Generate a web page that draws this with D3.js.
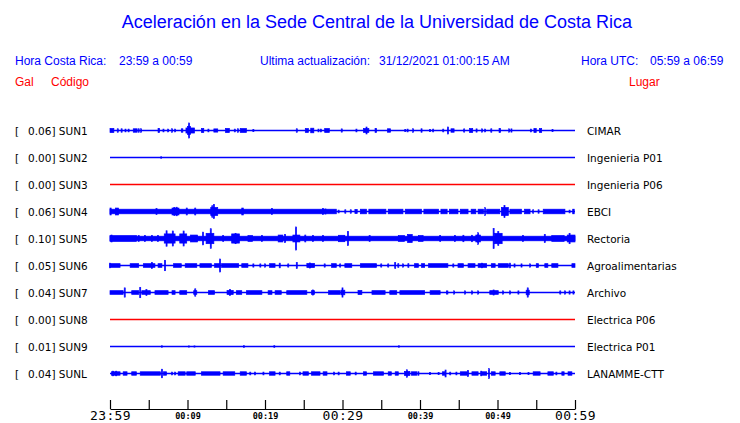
<!DOCTYPE html>
<html><head><meta charset="utf-8">
<script src="https://cdn.jsdelivr.net/npm/d3@7"></script>
<style>body{margin:0;background:#fff}svg{display:block}</style>
</head><body>
<script>
// ---------- DATA ----------
const codes = ["SUN1","SUN2","SUN3","SUN4","SUN5","SUN6","SUN7","SUN8","SUN9","SUNL"];
const places = ["CIMAR","Ingenieria P01","Ingenieria P06","EBCI","Rectoria","Agroalimentarias","Archivo","Electrica P06","Electrica P01","LANAMME-CTT"];
const peakGal = ["0.06","0.00","0.00","0.06","0.10","0.05","0.04","0.00","0.01","0.04"];
const traceColors = ["blue","blue","red","blue","blue","blue","blue","red","blue","blue"];
const tickMinutes = [0,5,10,15,20,25,30,35,40,45,50,55,60];
const tickLabels = ["23:59","","00:09","","00:19","","00:29","","00:39","","00:49","","00:59"];
const bigTicks = ["23:59","00:29","00:59"];

// amplitude blocks: [start minute, end minute, half amplitude (gal)]
const sun1 = [[0,0.5,0.018],[1.0,1.0,0.015],[1.5,1.5,0.015],[2.0,2.0,0.012],[2.4,2.4,0.012],[3.0,3.5,0.015],[3.7,3.7,0.015],[4.0,4.0,0.015],
[6.2,6.4,0.018],[6.9,6.9,0.012],[7.5,7.5,0.012],[8.0,8.0,0.015],[8.4,8.4,0.012],[9.2,9.4,0.015],[9.8,10.9,0.022],[10.0,10.4,0.035],[10.2,10.2,0.065],
[11.8,12.1,0.018],[12.7,12.7,0.012],[13.4,13.9,0.014],[14.9,15.4,0.018],[16.1,16.1,0.012],[16.5,16.5,0.015],[16.8,17.6,0.017],[18.5,18.5,0.01],
[24.1,24.1,0.015],[25.2,25.6,0.017],[25.9,26.3,0.02],[26.9,26.9,0.012],[27.2,27.2,0.012],[27.7,28.3,0.017],[29.9,29.9,0.014],[31.8,31.8,0.012],
[32.7,33.4,0.017],[33.1,33.1,0.03],[34.2,34.4,0.017],[35.8,36.2,0.015],[38.1,38.1,0.01],[38.4,38.4,0.012],[39.1,39.1,0.015],[40.2,40.2,0.015],
[41.3,41.3,0.01],[41.7,41.7,0.012],[43.0,43.0,0.012],[43.6,43.6,0.03],[44.0,44.4,0.015],[45.7,45.7,0.014],[46.4,46.8,0.017],[47.3,47.3,0.014],
[48.0,48.0,0.014],[48.4,48.4,0.012],[49.2,49.2,0.015],[50.2,50.4,0.017],[51.5,51.5,0.014],[51.8,51.8,0.014],[54.3,54.3,0.012],[54.7,55.0,0.017],
[55.4,55.7,0.017],[57.1,57.1,0.01]];
const sun2 = [[6.6,6.6,0.006]];
const sun3 = [];
const sun4 = [[0,29.2,0.02],[0,0.15,0.03],[0.7,1.1,0.03],[6.0,6.0,0.025],[8.0,8.9,0.03],[8.3,8.3,0.035],[8.6,8.6,0.037],[9.9,9.9,0.03],[11.0,11.0,0.03],
[13.0,13.9,0.035],[13.2,13.2,0.05],[13.4,13.4,0.06],[17.0,17.2,0.03],[20.9,20.9,0.025],[27.5,27.5,0.025],[27.8,27.8,0.022],
[29.5,29.5,0.012],[30.3,30.4,0.015],[31.0,31.1,0.015],[31.6,31.9,0.018],[32.3,33.1,0.02],[33.4,35.6,0.02],[35.9,37.8,0.02],[38.1,40.2,0.02],
[40.5,42.4,0.02],[42.7,43.5,0.02],[43.8,44.9,0.02],[45.2,46.2,0.02],[46.6,47.2,0.02],[47.5,48.2,0.02],[48.4,48.4,0.033],[48.6,50.3,0.02],
[50.5,51.4,0.035],[50.9,50.9,0.052],[51.6,53.1,0.02],[53.5,54.2,0.02],[54.6,54.6,0.015],[55.3,55.3,0.015],[55.9,58.7,0.02],[59.3,59.3,0.012],[59.7,59.9,0.02]];
const sun5 = [[0,60,0.02],[0,3.4,0.025],[0.2,0.2,0.03],[3.7,3.7,0.025],[4.5,4.5,0.025],[5.4,5.4,0.025],[6.2,6.2,0.025],
[7.0,8.4,0.04],[7.3,7.3,0.067],[8.1,8.1,0.065],[9.0,9.9,0.04],[9.5,9.5,0.065],[10.4,11.3,0.03],[12.0,12.0,0.055],[12.4,13.4,0.045],[13.0,13.0,0.085],
[14.6,14.6,0.025],[15.7,16.7,0.04],[16.2,16.2,0.045],[17.8,18.4,0.025],[19.6,19.6,0.025],[21.7,22.3,0.03],[22.6,22.6,0.035],[23.6,24.5,0.03],[24.0,24.0,0.1],
[25.2,25.2,0.03],[26.2,26.2,0.025],[27.5,27.5,0.025],[29.5,30.3,0.028],[30.7,30.7,0.06],[33.5,33.5,0.025],[37.2,38.0,0.025],[38.4,39.0,0.035],
[39.8,40.4,0.025],[42.6,42.6,0.025],[44.5,44.5,0.025],[45.6,45.6,0.028],[46.7,46.7,0.028],[47.2,47.8,0.03],[47.5,47.5,0.05],[49.5,49.5,0.087],
[49.6,50.6,0.045],[50.1,50.1,0.06],[53.3,53.3,0.025],[56.1,56.1,0.035],[57.0,58.6,0.025],[59.3,59.3,0.045],[59.0,60,0.03]];
const sun6 = [[0,1.3,0.016],[0,0,0.02],[2.6,3.7,0.016],[4.3,5.8,0.016],[5.4,5.4,0.025],[6.2,6.7,0.016],[7.1,7.1,0.045],[8.2,9.2,0.016],[9.7,11.2,0.016],
[11.6,13.1,0.016],[13.5,14.2,0.016],[14.2,14.2,0.056],[14.4,16.6,0.016],[17.0,17.8,0.016],[18.5,18.5,0.014],[19.4,19.4,0.014],[20.0,20.0,0.014],
[20.6,21.3,0.016],[21.9,21.9,0.02],[23.0,23.0,0.014],[24.1,24.1,0.025],[25.4,26.4,0.018],[25.8,25.8,0.022],[27.7,27.7,0.014],[28.6,29.2,0.016],
[29.7,29.7,0.014],[30.3,31.2,0.016],[32.3,34.4,0.016],[35.0,35.0,0.014],[35.9,35.9,0.014],[36.8,36.8,0.025],[37.2,37.2,0.016],[37.8,37.8,0.014],
[38.5,38.5,0.016],[39.3,39.8,0.016],[40.2,40.6,0.016],[41.1,43.6,0.016],[44.3,44.3,0.014],[44.9,45.6,0.016],[46.2,47.1,0.016],[47.5,48.6,0.016],
[48.0,48.0,0.02],[49.2,49.7,0.016],[50.1,51.4,0.016],[51.6,51.6,0.02],[52.2,52.2,0.014],[53.1,53.1,0.014],[54.2,54.2,0.014],[55.0,55.3,0.016],
[56.1,56.5,0.016],[57.0,57.8,0.016],[59.6,60,0.016]];
const sun7 = [[0,1.7,0.016],[1.9,1.9,0.04],[2.8,3.7,0.016],[3.9,3.9,0.045],[4.1,5.2,0.016],[4.7,4.7,0.025],[5.8,7.5,0.016],[8.0,8.4,0.016],
[9.0,9.9,0.016],[10.8,11.2,0.016],[11.0,11.0,0.032],[12.7,13.5,0.016],[15.1,15.9,0.018],[15.5,15.5,0.025],[16.3,17.0,0.016],[17.6,19.6,0.016],
[20.4,20.9,0.016],[21.3,22.1,0.016],[22.8,25.4,0.016],[26.0,26.4,0.016],[26.2,26.2,0.022],[28.2,29.7,0.016],[30.0,30.0,0.04],[29.8,30.3,0.02],
[32.0,32.5,0.018],[33.8,35.5,0.016],[36.1,37.0,0.016],[37.4,40.6,0.016],[41.3,42.6,0.016],[43.4,43.6,0.014],[44.4,44.4,0.014],[45.8,45.8,0.014],
[46.7,46.7,0.014],[47.5,47.5,0.014],[49.0,50.1,0.016],[49.5,49.5,0.022],[50.7,50.7,0.014],[51.6,51.6,0.014],[52.7,52.7,0.014],[53.9,53.9,0.04],
[53.7,54.1,0.02],[58.1,58.1,0.014],[58.7,58.7,0.014],[59.3,59.3,0.014],[59.8,59.8,0.014]];
const sun8 = [];
const sun9 = [[6.7,6.7,0.006],[10.2,10.2,0.005],[10.9,10.9,0.005],[17.3,17.3,0.007],[21.2,21.2,0.007],[37.3,37.3,0.006]];
const sunL = [[0.2,1.3,0.015],[0.4,0.4,0.02],[0.8,0.8,0.02],[1.7,2.2,0.015],[2.8,3.4,0.015],[3.9,6.5,0.015],[6.7,6.7,0.037],[6.9,7.3,0.015],
[8.0,8.0,0.012],[8.4,8.4,0.012],[8.8,9.7,0.015],[9.9,11.0,0.015],[11.8,14.2,0.015],[14.6,16.1,0.015],[16.8,17.6,0.015],[18.1,18.1,0.012],
[18.7,18.7,0.012],[19.8,19.8,0.012],[20.6,21.3,0.015],[21.9,21.9,0.012],[22.8,23.2,0.015],[24.5,24.5,0.012],[24.9,25.6,0.015],[26.0,27.1,0.015],
[27.5,28.0,0.015],[28.9,28.9,0.012],[29.5,29.5,0.012],[30.5,31.0,0.015],[31.7,31.7,0.012],[32.7,33.1,0.015],[34.0,35.3,0.015],[35.9,36.3,0.015],
[36.8,37.2,0.015],[38.3,38.3,0.032],[38.0,38.7,0.018],[38.9,39.6,0.015],[39.8,39.8,0.015],[41.3,41.3,0.01],[42.4,42.4,0.01],[42.9,43.2,0.015],
[43.3,43.3,0.03],[43.9,43.9,0.012],[44.7,44.7,0.012],[45.2,46.1,0.015],[46.2,46.2,0.025],[46.7,47.5,0.015],[47.9,47.9,0.02],[47.9,48.6,0.015],
[48.9,48.9,0.042],[49.2,49.7,0.015],[50.3,51.0,0.015],[51.6,51.6,0.01],[52.9,52.9,0.01],[54.0,54.0,0.01],[54.6,55.5,0.015],[56.5,57.2,0.015],
[57.6,57.6,0.012],[58.3,58.6,0.015],[59.1,59.6,0.015]];
const traces = [sun1,sun2,sun3,sun4,sun5,sun6,sun7,sun8,sun9,sunL];

// ---------- DRAW ----------
const W = 740, H = 423;
const svg = d3.select("body").append("svg").attr("width", W).attr("height", H);
const BLUE = "#0000ff", RED = "#ff0000";
const colorOf = c => c === "red" ? RED : BLUE;

// header
const hdr = "'Liberation Sans', Arial, sans-serif";
svg.append("text").attr("x", 377).attr("y", 28).attr("text-anchor", "middle")
  .style("font-family", hdr).style("font-size", "18px").attr("fill", BLUE)
  .text("Aceleración en la Sede Central de la Universidad de Costa Rica");
const row2 = [
  {x: 15, t: "Hora Costa Rica:"}, {x: 119, t: "23:59 a 00:59"},
  {x: 260, t: "Ultima actualización:"}, {x: 379, t: "31/12/2021 01:00:15 AM"},
  {x: 581, t: "Hora UTC:"}, {x: 650, t: "05:59 a 06:59"}
];
svg.selectAll(".r2").data(row2).enter().append("text")
  .attr("x", d => d.x).attr("y", 65).style("font-family", hdr).style("font-size", "12px")
  .attr("fill", BLUE).text(d => d.t);
const row3 = [{x: 15, t: "Gal"}, {x: 51, t: "Código"}, {x: 629, t: "Lugar"}];
svg.selectAll(".r3").data(row3).enter().append("text")
  .attr("x", d => d.x).attr("y", 86).style("font-family", hdr).style("font-size", "12px")
  .attr("fill", RED).text(d => d.t);

// scales
const x = d3.scaleLinear().domain([0, 60]).range([110, 575]);
const yRow = d3.scalePoint().domain(codes).range([130.5, 373.5]);
const amp = d3.scaleLinear().domain([0, 0.1]).range([0, 11.5]);

const lab = "'DejaVu Sans', Verdana, sans-serif";
const mono = "'DejaVu Sans Mono', monospace";
const rows = svg.selectAll(".row").data(codes).enter().append("g")
  .attr("transform", d => `translate(0,${yRow(d)})`);

rows.append("text").attr("x", 15).attr("y", 4).style("font-family", lab).style("font-size", "10.5px")
  .attr("fill", "#000").text("[");
rows.append("text").attr("x", 28).attr("y", 4).style("font-family", lab).style("font-size", "10.5px")
  .attr("fill", "#000").text((d, i) => `${peakGal[i]}] ${d}`);
rows.append("text").attr("x", 587).attr("y", 4).style("font-family", lab).style("font-size", "10.5px")
  .attr("fill", "#000").text((d, i) => places[i]);

rows.append("line").attr("x1", x(0)).attr("x2", x(60)).attr("y1", 0).attr("y2", 0)
  .attr("stroke", (d, i) => colorOf(traceColors[i])).attr("stroke-width", 1.4);

rows.each(function(d, i) {
  const col = colorOf(traceColors[i]);
  d3.select(this).selectAll("rect").data(traces[i]).enter().append("rect")
    .attr("x", b => b[0] === b[1] ? x(b[0]) - 0.5 : x(b[0]))
    .attr("width", b => Math.max(1, x(b[1]) - x(b[0])))
    .attr("y", b => -amp(b[2]))
    .attr("height", b => 2 * amp(b[2]))
    .attr("fill", col)
    .attr("stroke", col).attr("stroke-width", 0.7)
    .attr("stroke-linejoin", "miter");
});

// time axis
const axis = d3.axisBottom(x).tickValues(tickMinutes)
  .tickFormat((d, i) => tickLabels[i]).tickSizeInner(-9).tickSizeOuter(0).tickPadding(8);
const ax = svg.append("g").attr("transform", "translate(0,409)").call(axis);
ax.select(".domain").attr("stroke", "#000").attr("stroke-width", 1.2);
ax.selectAll(".tick line").attr("stroke", "#000").attr("stroke-width", 1.2);
ax.selectAll(".tick text").attr("fill", "#000").style("font-family", mono)
  .attr("dy", null)
  .each(function(d, i) {
    const big = bigTicks.includes(tickLabels[i]);
    d3.select(this).attr("y", big ? 11 : 9.5)
      .style("font-size", big ? "13px" : "8.5px")
      .style("font-weight", big ? "normal" : "bold")
      .style("letter-spacing", big ? "0.4px" : "0px");
  });
</script>
</body></html>
